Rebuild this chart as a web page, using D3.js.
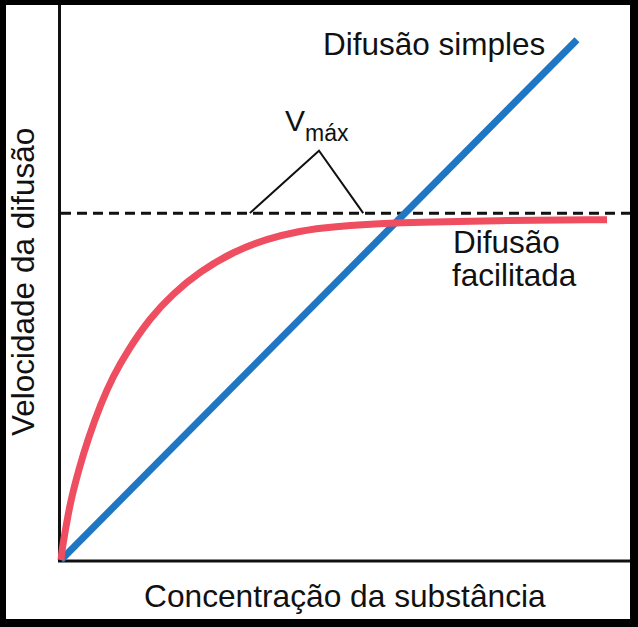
<!DOCTYPE html>
<html>
<head>
<meta charset="utf-8">
<script src="https://cdn.jsdelivr.net/npm/d3@7"></script>
<style>
  body { margin: 0; background: #fff; }
  text { font-family: "Liberation Sans", Arial, Helvetica, sans-serif; fill: #111; }
</style>
</head>
<body>
<script>
// concentration (x) and rate (y), Vmax = 1
var simpleX = [0, 9.1];
var simpleY = [0, 1.5];
var facilX = [0, 0.02, 0.05, 0.16, 0.32, 0.48, 0.7, 0.92, 1.16, 1.57, 1.975, 2.45, 3.03, 3.63, 4.22, 4.74, 5.93, 7.69, 9.63, 9.63];
var facilY = [0, 0.03, 0.06, 0.165, 0.265, 0.35, 0.45, 0.53, 0.6, 0.698, 0.768, 0.832, 0.888, 0.926, 0.949, 0.961, 0.973, 0.979, 0.981, 0.981];
var vmax = 1;
var bracketX = [3.33, 4.55, 5.33];   // the inverted "V" under the Vmax label
var bracketY = [1, 1.18, 1];

var width = 638, height = 627;
var svg = d3.select("body").append("svg").attr("width", width).attr("height", height);

// thick black frame
svg.append("rect").attr("width", width).attr("height", height).attr("fill", "#000");
svg.append("rect").attr("x", 6).attr("y", 5).attr("width", 624).attr("height", 614).attr("fill", "#fff");

var x = d3.scaleLinear().domain([0, 10]).range([61, 628]);
var y = d3.scaleLinear().domain([0, 1.6]).range([560, 5]);

// axes (no ticks)
svg.append("line").attr("x1", x(0) - 1.5).attr("x2", x(0) - 1.5)
  .attr("y1", y(1.6)).attr("y2", y(0) + 1.5).attr("stroke", "#111").attr("stroke-width", 3);
svg.append("line").attr("x1", x(0) - 3).attr("x2", 630)
  .attr("y1", y(0) + 1).attr("y2", y(0) + 1).attr("stroke", "#111").attr("stroke-width", 3);

// Vmax dashed line
svg.append("line").attr("x1", x(0)).attr("x2", 630).attr("y1", y(vmax)).attr("y2", y(vmax))
  .attr("stroke", "#111").attr("stroke-width", 3).attr("stroke-dasharray", "10,6");

var line = d3.line().x(function(d) { return x(d[0]); }).y(function(d) { return y(d[1]); });

// bracket
svg.append("path").datum(d3.zip(bracketX, bracketY)).attr("d", line)
  .attr("fill", "none").attr("stroke", "#111").attr("stroke-width", 2);

// simple diffusion
svg.append("path").datum(d3.zip(simpleX, simpleY)).attr("d", line)
  .attr("fill", "none").attr("stroke", "#1f76c3").attr("stroke-width", 7);

// facilitated diffusion
var curve = d3.line().curve(d3.curveBasis)
  .x(function(d) { return x(d[0]); }).y(function(d) { return y(d[1]); });
svg.append("path").datum(d3.zip(facilX, facilY)).attr("d", curve)
  .attr("fill", "none").attr("stroke", "#ef4d60").attr("stroke-width", 7);

// labels
svg.append("text").attr("x", 323).attr("y", 55).attr("font-size", 31.5).text("Difusão simples");
svg.append("text").attr("x", 453).attr("y", 253).attr("font-size", 31.5).text("Difusão");
svg.append("text").attr("x", 452).attr("y", 286).attr("font-size", 31.5).text("facilitada");
svg.append("text").attr("x", 285).attr("y", 131).attr("font-size", 30).text("V");
svg.append("text").attr("x", 305).attr("y", 141).attr("font-size", 23).text("máx");
svg.append("text").attr("x", 144).attr("y", 607).attr("font-size", 31.7).text("Concentração da substância");
svg.append("text").attr("transform", "translate(34,436) rotate(-90)").attr("font-size", 31.5)
  .text("Velocidade da difusão");
</script>
</body>
</html>
